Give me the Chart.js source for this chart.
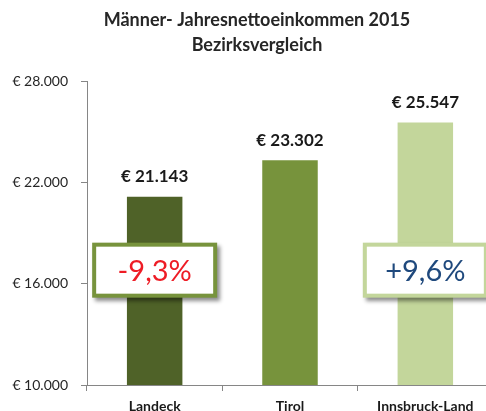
<!DOCTYPE html>
<html>
<head>
<meta charset="utf-8">
<script src="https://cdn.jsdelivr.net/npm/chart.js@4"></script>
<style>
  html, body { margin: 0; padding: 0; background: #fff; overflow: hidden; }
  #wrap { width: 514px; height: 411px; }
</style>
</head>
<body>
<div id="wrap"><canvas id="chart" width="514" height="411"></canvas></div>
<script>
// data
const categories = ["Landeck", "Tirol", "Innsbruck-Land"];
const incomes = [21143, 23302, 25547];
const barColors = ["#4f6228", "#77933c", "#c3d69b"];
const yTicks = [10000, 16000, 22000, 28000];
const titleLines = ["Männer- Jahresnettoeinkommen 2015", "Bezirksvergleich"];
// comparison boxes: which bar, text, colours
const diffBars = [0, 2];
const diffTexts = ["-9,3%", "+9,6%"];
const diffBorders = ["#77933c", "#c3d69b"];
const diffTextColors = ["#ee1c25", "#1f497d"];
const diffLevel = 16800;

const FONT = "Lato, 'Open Sans', sans-serif";

/**
 * formats a number like 21.143 with euro sign
 */
function euro(v) {
  return "€ " + v.toLocaleString("de-DE");
}

// value labels above bars
const valueLabels = {
  id: "valueLabels",
  afterDatasetsDraw(chart) {
    const ctx = chart.ctx;
    const meta = chart.getDatasetMeta(0);
    ctx.save();
    ctx.font = "bold 17px " + FONT;
    ctx.fillStyle = "#1a1a1a";
    ctx.textAlign = "center";
    ctx.textBaseline = "middle";
    meta.data.forEach((bar, i) => {
      ctx.fillText(euro(incomes[i]), bar.x, bar.y - 20);
    });
    ctx.restore();
  },
};

// the two percentage boxes
const diffBoxes = {
  id: "diffBoxes",
  afterDatasetsDraw(chart) {
    const ctx = chart.ctx;
    const xs = chart.scales.x;
    const ys = chart.scales.y;
    const w = 125;
    const h = 55;
    ctx.save();
    diffBars.forEach((idx, i) => {
      const cx = xs.getPixelForValue(idx);
      const cy = ys.getPixelForValue(diffLevel);
      const x = cx - w / 2;
      const y = cy - h / 2;
      // shadow first
      ctx.shadowColor = "rgba(0,0,0,0.45)";
      ctx.shadowBlur = 4;
      ctx.shadowOffsetX = 3;
      ctx.shadowOffsetY = 3;
      ctx.fillStyle = diffBorders[i];
      ctx.fillRect(x, y, w, h);
      ctx.shadowColor = "transparent";
      ctx.fillStyle = "#fff";
      ctx.fillRect(x + 4, y + 4, w - 8, h - 8);
      ctx.font = "29px " + FONT;
      ctx.fillStyle = diffTextColors[i];
      ctx.textAlign = "center";
      ctx.textBaseline = "middle";
      ctx.fillText(diffTexts[i], cx, cy + 1);
    });
    ctx.restore();
  },
};

const chart = new Chart(document.getElementById("chart"), {
  type: "bar",
  data: {
    labels: categories,
    datasets: [
      {
        data: incomes,
        backgroundColor: barColors,
        barPercentage: 0.41,
        categoryPercentage: 1,
      },
    ],
  },
  options: {
    responsive: false,
    animation: false,
    layout: {
      padding: { top: 0, right: 7, left: 7, bottom: 0 },
    },
    plugins: {
      legend: { display: false },
      tooltip: { enabled: false },
      title: {
        display: true,
        text: titleLines,
        color: "#262626",
        font: { family: FONT, size: 18, weight: "bold", lineHeight: 1.39 },
        padding: { top: 8, bottom: 23 },
      },
    },
    scales: {
      y: {
        min: 10000,
        max: 28000,
        afterBuildTicks(axis) {
          axis.ticks = yTicks.map((v) => ({ value: v }));
        },
        afterFit(axis) {
          axis.width = 80;
        },
        border: { display: true, color: "#868686", width: 1 },
        grid: {
          drawOnChartArea: false,
          drawTicks: true,
          tickLength: 6,
          color: "#868686",
        },
        ticks: {
          color: "#262626",
          padding: 13,
          font: { family: FONT, size: 14 },
          callback: (v) => euro(v),
        },
      },
      // empty right axis, only keeps the plot narrower than the title box
      spacer: {
        type: "linear",
        position: "right",
        afterFit(axis) {
          axis.width = 14;
        },
        border: { display: false },
        grid: { display: false },
        ticks: { display: false },
      },
      x: {
        afterFit(axis) {
          axis.height = 26;
        },
        border: { display: true, color: "#868686", width: 1 },
        grid: {
          offset: true,
          drawOnChartArea: false,
          drawTicks: true,
          tickLength: 6,
          color: "#868686",
        },
        ticks: {
          color: "#1a1a1a",
          padding: 7,
          maxRotation: 0,
          font: { family: FONT, size: 14, weight: "bold" },
        },
      },
    },
  },
  plugins: [valueLabels, diffBoxes],
});
</script>
</body>
</html>
